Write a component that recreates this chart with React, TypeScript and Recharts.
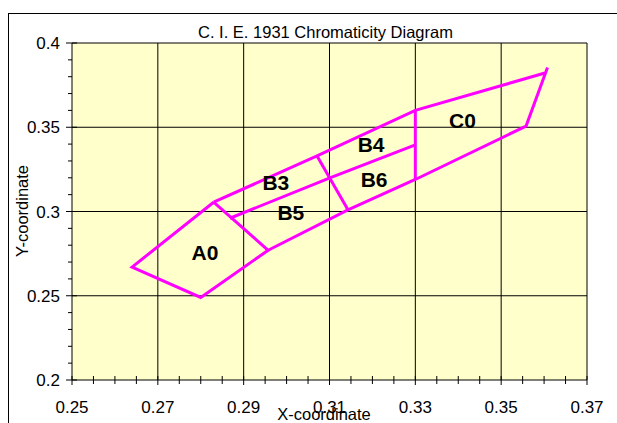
import React from 'react';
import { ScatterChart, Scatter, XAxis, YAxis, CartesianGrid } from 'recharts';

// axis ticks (major ones get a label)
const xTicks = [
  0.25, 0.255, 0.26, 0.265, 0.27, 0.275, 0.28, 0.285, 0.29, 0.295, 0.3, 0.305, 0.31,
  0.315, 0.32, 0.325, 0.33, 0.335, 0.34, 0.345, 0.35, 0.355, 0.36, 0.365, 0.37,
];
const xMajor = [0.25, 0.27, 0.29, 0.31, 0.33, 0.35, 0.37];
const yTicks = [
  0.2, 0.21, 0.22, 0.23, 0.24, 0.25, 0.26, 0.27, 0.28, 0.29, 0.3, 0.31, 0.32, 0.33,
  0.34, 0.35, 0.36, 0.37, 0.38, 0.39, 0.4,
];
const yMajor = [0.2, 0.25, 0.3, 0.35, 0.4];

// quadrangle outlines (x, y chromaticity)
const a0Outline = [
  { x: 0.283, y: 0.3055 },
  { x: 0.264, y: 0.267 },
  { x: 0.28, y: 0.249 },
  { x: 0.2957, y: 0.277 },
  { x: 0.283, y: 0.3055 },
];
const upperEdge = [
  { x: 0.283, y: 0.3055 },
  { x: 0.3071, y: 0.333 },
  { x: 0.33, y: 0.36 },
  { x: 0.3602, y: 0.3822 },
];
const lowerEdge = [
  { x: 0.2957, y: 0.277 },
  { x: 0.3143, y: 0.301 },
  { x: 0.33, y: 0.319 },
  { x: 0.3558, y: 0.3507 },
  { x: 0.3608, y: 0.3855 },
];
const middleLine = [
  { x: 0.2868, y: 0.296 },
  { x: 0.3101, y: 0.32 },
  { x: 0.33, y: 0.3395 },
];
const b34Divider = [
  { x: 0.3071, y: 0.333 },
  { x: 0.3143, y: 0.301 },
];
const c0Divider = [
  { x: 0.33, y: 0.36 },
  { x: 0.33, y: 0.319 },
];

const regionLabels = [
  { x: 0.281, y: 0.2754, name: 'A0' },
  { x: 0.2975, y: 0.317, name: 'B3' },
  { x: 0.301, y: 0.2995, name: 'B5' },
  { x: 0.3197, y: 0.3395, name: 'B4' },
  { x: 0.3204, y: 0.3187, name: 'B6' },
  { x: 0.341, y: 0.3543, name: 'C0' },
];

const outlines = [a0Outline, upperEdge, lowerEdge, middleLine, b34Divider, c0Divider];

const MAGENTA = '#FF00FF';
const FONT = '"Liberation Sans", Arial, sans-serif';

const isMajor = (v: number, list: number[]) => list.some((m) => Math.abs(m - v) < 1e-6);

const XTick = (props: any) => {
  const { x, y, payload } = props;
  const major = isMajor(payload.value, xMajor);
  return (
    <g>
      <line x1={x} x2={x} y1={y - 4} y2={y + (major ? 5 : 4)} stroke="#000" />
      {major && (
        <text x={x} y={y + 33} textAnchor="middle" fontSize={17} fill="#000">
          {payload.value}
        </text>
      )}
    </g>
  );
};

const YTick = (props: any) => {
  const { x, y, payload } = props;
  const major = isMajor(payload.value, yMajor);
  return (
    <g>
      <line x1={x - (major ? 6 : 4)} x2={major ? x + 5 : x} y1={y} y2={y} stroke="#000" />
      {major && (
        <text x={x - 12} y={y + 6} textAnchor="end" fontSize={17} fill="#000">
          {payload.value}
        </text>
      )}
    </g>
  );
};

const LabelShape = (props: any) => (
  <text
    x={props.cx}
    y={props.cy}
    textAnchor="middle"
    dominantBaseline="central"
    fontSize={21}
    fontWeight="bold"
    fill="#000"
  >
    {props.payload.name}
  </text>
);

const NoDot = () => <g />;

export default function App() {
  return (
    <div
      style={{
        position: 'fixed',
        top: 0,
        left: 0,
        width: 617,
        height: 423,
        overflow: 'hidden',
        background: '#fff',
        fontFamily: FONT,
      }}
    >
      <div
        style={{
          position: 'absolute',
          left: 8,
          top: 13,
          width: 700,
          height: 500,
          border: '1px solid #000',
        }}
      />
      <div
        style={{
          position: 'absolute',
          top: 22,
          left: 0,
          width: 651,
          textAlign: 'center',
          fontSize: 16.5,
          lineHeight: '20px',
          color: '#000',
        }}
      >
        C. I. E. 1931 Chromaticity Diagram
      </div>
      <div style={{ position: 'absolute', left: 0, top: 0 }}>
        <ScatterChart
          width={617}
          height={423}
          margin={{ top: 43, right: 30, left: 0, bottom: 0 }}
          style={{ fontFamily: FONT }}
        >
          <CartesianGrid
            fill="#FFFFCC"
            fillOpacity={1}
            stroke="#000"
            horizontalValues={[0.25, 0.3, 0.35, 0.4]}
            verticalValues={[0.27, 0.29, 0.31, 0.33, 0.35, 0.37]}
          />
          <XAxis
            type="number"
            dataKey="x"
            domain={[0.25, 0.37]}
            ticks={xTicks}
            interval={0}
            height={43}
            tickSize={0}
            tickMargin={0}
            tickLine={false}
            axisLine={{ stroke: '#000' }}
            tick={<XTick />}
            allowDataOverflow
            label={{
              content: () => (
                <text x={324} y={420} textAnchor="middle" fontSize={16.5} fill="#000">
                  X-coordinate
                </text>
              ),
            }}
          />
          <YAxis
            type="number"
            dataKey="y"
            domain={[0.2, 0.4]}
            ticks={yTicks}
            interval={0}
            width={72}
            tickSize={0}
            tickMargin={0}
            tickLine={false}
            axisLine={{ stroke: '#000' }}
            tick={<YTick />}
            allowDataOverflow
            label={{
              content: () => (
                <text
                  transform="translate(28, 211) rotate(-90)"
                  textAnchor="middle"
                  fontSize={16.5}
                  fill="#000"
                >
                  Y-coordinate
                </text>
              ),
            }}
          />
          {outlines.map((pts, i) => (
            <Scatter
              key={i}
              data={pts}
              fill={MAGENTA}
              line={{ stroke: MAGENTA, strokeWidth: 3 }}
              lineJointType="linear"
              shape={<NoDot />}
              isAnimationActive={false}
            />
          ))}
          <Scatter data={regionLabels} shape={<LabelShape />} isAnimationActive={false} />
        </ScatterChart>
      </div>
    </div>
  );
}
